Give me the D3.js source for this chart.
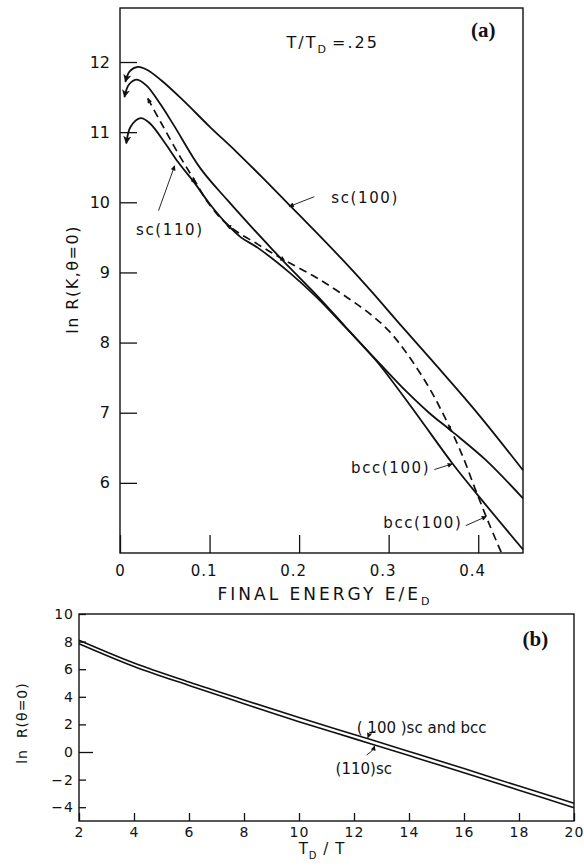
<!DOCTYPE html>
<html><head><meta charset="utf-8">
<script src="https://cdn.jsdelivr.net/npm/d3@7"></script>
<style>
body{margin:0;background:#fff;}
svg text{font-family:"DejaVu Sans",sans-serif;fill:#111;}
</style></head><body>
<svg id="chart" width="584" height="867"></svg>
<script>
// ---------- Panel (a) data ----------
const aXTicks = [0, 0.1, 0.2, 0.3, 0.4];
const aYTicks = [6, 7, 8, 9, 10, 11, 12];

const sc100X = [0.006, 0.011, 0.02, 0.03, 0.046, 0.07, 0.1, 0.13, 0.16, 0.19, 0.22, 0.25, 0.28, 0.31, 0.35, 0.4, 0.45];
const sc100Y = [11.72, 11.87, 11.93, 11.89, 11.74, 11.46, 11.08, 10.72, 10.34, 9.95, 9.56, 9.16, 8.74, 8.3, 7.72, 6.98, 6.18];

const bccX = [0.005, 0.01, 0.019, 0.03, 0.045, 0.06, 0.09, 0.12, 0.146, 0.17, 0.19, 0.22, 0.25, 0.27, 0.29, 0.33, 0.371, 0.405, 0.45];
const bccY = [11.5, 11.68, 11.75, 11.66, 11.4, 11.1, 10.48, 10.03, 9.66, 9.33, 9.06, 8.67, 8.25, 7.97, 7.68, 7.0, 6.28, 5.74, 5.05];

const sc110X = [0.007, 0.012, 0.023, 0.033, 0.05, 0.065, 0.083, 0.1, 0.12, 0.135, 0.154, 0.19, 0.22, 0.25, 0.27, 0.29, 0.32, 0.345, 0.371, 0.408, 0.45];
const sc110Y = [10.84, 11.08, 11.2, 11.13, 10.85, 10.57, 10.28, 9.98, 9.68, 9.5, 9.35, 8.99, 8.64, 8.24, 7.97, 7.7, 7.3, 7.0, 6.73, 6.33, 5.78];

const dashX = [0.031, 0.046, 0.068, 0.083, 0.098, 0.12, 0.154, 0.183, 0.22, 0.254, 0.28, 0.3, 0.32, 0.345, 0.364, 0.382, 0.397, 0.412, 0.426];
const dashY = [11.48, 11.13, 10.63, 10.32, 10.0, 9.68, 9.40, 9.18, 8.92, 8.64, 8.40, 8.17, 7.85, 7.36, 6.9, 6.4, 5.9, 5.42, 5.0];

// ---------- Panel (b) data ----------
const bXTicks = [2, 4, 6, 8, 10, 12, 14, 16, 18, 20];
const bYTicks = [-4, -2, 0, 2, 4, 6, 8, 10];
const bX = [2, 4, 6, 8, 10, 12, 14, 16, 18, 20];
const b100Y = [8.1, 6.45, 5.07, 3.77, 2.5, 1.27, 0.04, -1.2, -2.47, -3.72];
const b110Y = [7.85, 6.2, 4.82, 3.5, 2.2, 0.97, -0.26, -1.5, -2.77, -4.04];

const svg = d3.select("#chart");
const ink = "#111";

// markers
const defs = svg.append("defs");
defs.append("marker").attr("id", "bigArrow")
  .attr("viewBox", "0 0 10 10").attr("refX", 9).attr("refY", 5)
  .attr("markerWidth", 10).attr("markerHeight", 8)
  .attr("markerUnits", "userSpaceOnUse").attr("orient", "auto-start-reverse")
  .append("path").attr("d", "M0,0 L10,5 L0,10 L2.5,5 z").attr("fill", ink);
defs.append("marker").attr("id", "smallArrow")
  .attr("viewBox", "0 0 10 10").attr("refX", 9).attr("refY", 5)
  .attr("markerWidth", 7).attr("markerHeight", 5)
  .attr("markerUnits", "userSpaceOnUse").attr("orient", "auto-start-reverse")
  .append("path").attr("d", "M0,0 L10,5 L0,10 z").attr("fill", ink);

// ================= Panel (a) =================
const xA = d3.scaleLinear().domain([0, 0.45]).range([120, 523]);
const yA = d3.scaleLinear().domain([5, 12.77]).range([553, 8]);

const gA = svg.append("g");
gA.append("rect").attr("x", xA(0)).attr("y", yA(12.77))
  .attr("width", xA(0.45) - xA(0)).attr("height", yA(5) - yA(12.77))
  .attr("fill", "none").attr("stroke", ink).attr("stroke-width", 1.4);

const axYA = gA.append("g").attr("transform", `translate(${xA(0)},0)`)
  .call(d3.axisLeft(yA).tickValues(aYTicks).tickSize(-17).tickPadding(10).tickFormat(d3.format("d")));
const axXA = gA.append("g").attr("transform", `translate(0,${yA(5)})`)
  .call(d3.axisBottom(xA).tickValues(aXTicks).tickSize(-18).tickPadding(12)
    .tickFormat(d => d === 0 ? "0" : d3.format(".1f")(d)));
[axYA, axXA].forEach(ax => {
  ax.select(".domain").remove();
  ax.selectAll("line").attr("stroke", ink).attr("stroke-width", 1.3);
  ax.selectAll("text").attr("font-family", "DejaVu Sans").attr("font-size", 16).attr("fill", ink);
});
axXA.selectAll("text").attr("dx", d => d === 0 ? 0 : -6).attr("font-size", 15).attr("letter-spacing", 1);

const lineA = (xs, ys) => d3.line().curve(d3.curveCatmullRom.alpha(0.5))
  .x((d, i) => xA(xs[i])).y((d, i) => yA(ys[i]))(xs);

[[sc100X, sc100Y], [bccX, bccY], [sc110X, sc110Y]].forEach(([xs, ys]) => {
  gA.append("path").attr("d", lineA(xs, ys)).attr("fill", "none")
    .attr("stroke", ink).attr("stroke-width", 1.8).attr("marker-start", "url(#bigArrow)");
});
gA.append("path").attr("d", lineA(dashX, dashY)).attr("fill", "none")
  .attr("stroke", ink).attr("stroke-width", 1.7).attr("stroke-dasharray", "8,5")
  .attr("marker-start", "url(#smallArrow)");

// small direction arrows along the dashed curve
const hopArrows = [
  [[0.077, 10.40], [0.084, 10.27]],
  [[0.128, 9.62], [0.119, 9.67]],
  [[0.176, 9.23], [0.184, 9.17]],
  [[0.365, 6.86], [0.369, 6.74]]
];
hopArrows.forEach(([a, b]) => {
  gA.append("line").attr("x1", xA(a[0])).attr("y1", yA(a[1])).attr("x2", xA(b[0])).attr("y2", yA(b[1]))
    .attr("stroke", "none").attr("marker-end", "url(#smallArrow)");
});

// labels panel (a)
const leadersA = [
  {text: "sc(100)", tx: 0.236, ty: 9.99, from: [0.217, 10.08], to: [0.189, 9.94]},
  {text: "sc(110)", tx: 0.018, ty: 9.54, from: [0.043, 9.88], to: [0.061, 10.52]},
  {text: "bcc(100)", tx: 0.258, ty: 6.14, from: [0.351, 6.19], to: [0.371, 6.27]},
  {text: "bcc(100)", tx: 0.294, ty: 5.36, from: [0.386, 5.39], to: [0.409, 5.52]}
];
leadersA.forEach(l => {
  gA.append("text").attr("x", xA(l.tx)).attr("y", yA(l.ty)).text(l.text)
    .attr("font-size", 15).attr("letter-spacing", 1.6);
  gA.append("line").attr("x1", xA(l.from[0])).attr("y1", yA(l.from[1]))
    .attr("x2", xA(l.to[0])).attr("y2", yA(l.to[1]))
    .attr("stroke", ink).attr("stroke-width", 0.9).attr("marker-end", "url(#smallArrow)");
});

const tt = gA.append("text").attr("x", xA(0.186)).attr("y", yA(12.2)).attr("font-size", 16).attr("letter-spacing", 2);
tt.append("tspan").text("T/T");
tt.append("tspan").text("D").attr("font-size", 11).attr("dy", 5);
tt.append("tspan").text("=.25").attr("dy", -5).attr("dx", 4);

gA.append("text").attr("x", xA(0.392)).attr("y", yA(12.36)).text("(a)")
  .attr("font-weight", "bold").attr("font-size", 21)
  .style("font-family", "'Liberation Serif',serif");

const xlabA = gA.append("text").attr("x", 325).attr("y", 600).attr("text-anchor", "middle")
  .attr("font-size", 17).attr("letter-spacing", 3);
xlabA.append("tspan").text("FINAL ENERGY E/E");
xlabA.append("tspan").text("D").attr("font-size", 11).attr("dy", 5);

gA.append("text").attr("transform", `translate(78,${yA(8.9)}) rotate(-90)`).attr("text-anchor", "middle")
  .attr("font-size", 16).attr("letter-spacing", 1.5).text("ln R(K,θ=0)");

// ================= Panel (b) =================
const xB = d3.scaleLinear().domain([2, 20]).range([79, 574]);
const yB = d3.scaleLinear().domain([-5, 10]).range([821, 614]);

const gB = svg.append("g");
gB.append("rect").attr("x", xB(2)).attr("y", yB(10))
  .attr("width", xB(20) - xB(2)).attr("height", yB(-5) - yB(10))
  .attr("fill", "none").attr("stroke", ink).attr("stroke-width", 1.4);

const axYB = gB.append("g").attr("transform", `translate(${xB(2)},0)`)
  .call(d3.axisLeft(yB).tickValues(bYTicks).tickSize(-7).tickPadding(5).tickFormat(d3.format("d")));
const axXB = gB.append("g").attr("transform", `translate(0,${yB(-5)})`)
  .call(d3.axisBottom(xB).tickValues(bXTicks).tickSize(-8).tickPadding(6).tickFormat(d3.format("d")));
[axYB, axXB].forEach(ax => {
  ax.select(".domain").remove();
  ax.selectAll("line").attr("stroke", ink).attr("stroke-width", 1.3);
  ax.selectAll("text").attr("font-family", "DejaVu Sans").attr("font-size", 14).attr("fill", ink).attr("letter-spacing", 1);
});
axYB.selectAll(".tick line").filter(d => d === 0).attr("x2", 14);

const lineB = ys => d3.line().curve(d3.curveMonotoneX)
  .x((d, i) => xB(bX[i])).y((d, i) => yB(ys[i]))(bX);
[b100Y, b110Y].forEach(ys => {
  gB.append("path").attr("d", lineB(ys)).attr("fill", "none").attr("stroke", ink).attr("stroke-width", 1.6);
});

gB.append("text").attr("x", xB(12.1)).attr("y", yB(1.35)).attr("font-size", 15).text("( 100 )sc and bcc");
gB.append("text").attr("x", xB(11.33)).attr("y", yB(-1.6)).attr("font-size", 15).text("(110)sc");
// leaders in (b)
const up = d3.interpolateNumber(b100Y[5], b100Y[6])((12.5 - 12) / 2);
const lo = d3.interpolateNumber(b110Y[5], b110Y[6])((12.75 - 12) / 2);
gB.append("path").attr("d", `M${xB(12.5) + 8},${yB(up) - 8} Q${xB(12.5) + 2},${yB(up) - 6} ${xB(12.5)},${yB(up) - 1}`)
  .attr("fill", "none").attr("stroke", ink).attr("stroke-width", 0.9).attr("marker-end", "url(#smallArrow)");
gB.append("path").attr("d", `M${xB(12.75) - 8},${yB(lo) + 10} Q${xB(12.75) - 2},${yB(lo) + 7} ${xB(12.75)},${yB(lo) + 1}`)
  .attr("fill", "none").attr("stroke", ink).attr("stroke-width", 0.9).attr("marker-end", "url(#smallArrow)");

gB.append("text").attr("x", xB(18.13)).attr("y", yB(7.7)).text("(b)")
  .attr("font-weight", "bold").attr("font-size", 21)
  .style("font-family", "'Liberation Serif',serif");

const xlabB = gB.append("text").attr("x", 322).attr("y", 854).attr("text-anchor", "middle").attr("font-size", 15).attr("letter-spacing", 1);
xlabB.append("tspan").text("T");
xlabB.append("tspan").text("D").attr("font-size", 10).attr("dy", 5);
xlabB.append("tspan").text(" / T").attr("dy", -5);

gB.append("text").attr("transform", `translate(27,${yB(2.1)}) rotate(-90)`).attr("text-anchor", "middle")
  .attr("font-size", 14).attr("letter-spacing", 1).text("ln  R(θ=0)").style("white-space", "pre");
</script>
</body></html>
